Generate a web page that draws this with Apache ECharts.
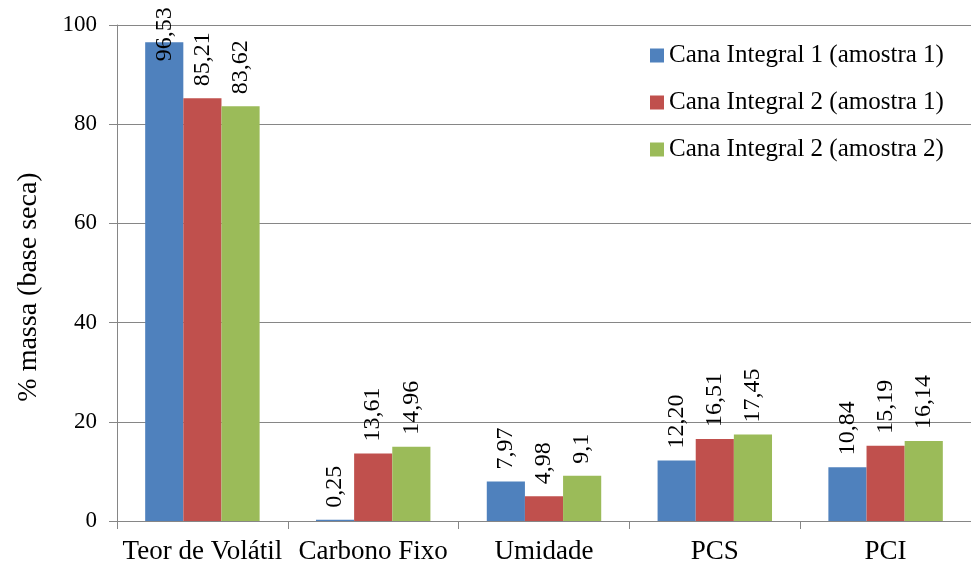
<!DOCTYPE html>
<html>
<head>
<meta charset="utf-8">
<script src="https://cdn.jsdelivr.net/npm/echarts@6/dist/echarts.min.js"></script>
<style>html,body{margin:0;padding:0;background:#fff;}#c{width:971px;height:565px;}</style>
</head>
<body>
<div id="c"></div>
<script>
const categories = ['Teor de Volátil', 'Carbono Fixo', 'Umidade', 'PCS', 'PCI'];
const seriesNames = ['Cana Integral 1 (amostra 1)', 'Cana Integral 2 (amostra 1)', 'Cana Integral 2 (amostra 2)'];
const values1 = [96.53, 0.25, 7.97, 12.20, 10.84];
const values2 = [85.21, 13.61, 4.98, 16.51, 15.19];
const values3 = [83.62, 14.96, 9.1, 17.45, 16.14];
const labels1 = ['96,53', '0,25', '7,97', '12,20', '10,84'];
const labels2 = ['85,21', '13,61', '4,98', '16,51', '15,19'];
const labels3 = ['83,62', '14,96', '9,1', '17,45', '16,14'];
const yTicks = { min: 0, max: 100, interval: 20 };

const colors = ['#4F81BD', '#C0504D', '#9BBB59'];
const FONT = '"Liberation Serif", "Times New Roman", serif';
const allValues = [values1, values2, values3];
const allLabels = [labels1, labels2, labels3];

const baseLabel = {
  show: true, position: 'top', rotate: 90, align: 'left', verticalAlign: 'middle',
  distance: 12, fontFamily: FONT, fontSize: 24, color: '#000'
};

const series = allValues.map((vals, si) => ({
  name: seriesNames[si],
  type: 'bar',
  barGap: '0%',
  barCategoryGap: '33%',
  itemStyle: { color: colors[si] },
  label: Object.assign({}, baseLabel, { formatter: p => allLabels[si][p.dataIndex] }),
  data: vals.map(v => v > 90
    ? { value: v, label: { position: ['50%', -35], align: 'right' } }
    : v)
}));

const chart = echarts.init(document.getElementById('c'), null, { renderer: 'canvas' });
chart.setOption({
  animation: false,
  color: colors,
  grid: { left: 117, right: -10, top: 25, bottom: 44, containLabel: false },
  legend: {
    orient: 'vertical', left: 645, top: 38,
    itemWidth: 14, itemHeight: 14, itemGap: 22,
    icon: 'rect',
    textStyle: { fontFamily: FONT, fontSize: 25, color: '#000' },
    data: seriesNames
  },
  xAxis: {
    type: 'category', data: categories,
    axisLine: { lineStyle: { color: '#868686' } },
    axisTick: { show: true, length: 8, lineStyle: { color: '#868686' } },
    axisLabel: { fontFamily: FONT, fontSize: 27, color: '#000', margin: 17, interval: 0 }
  },
  yAxis: {
    type: 'value', min: yTicks.min, max: yTicks.max, interval: yTicks.interval,
    name: '% massa (base seca)', nameLocation: 'middle', nameGap: 74,
    nameTextStyle: { fontFamily: FONT, fontSize: 28, color: '#000', padding: [0, 28, 0, 0] },
    axisLine: { show: true, lineStyle: { color: '#868686' } },
    axisTick: { show: true, length: 8, lineStyle: { color: '#868686' } },
    axisLabel: { fontFamily: FONT, fontSize: 23, color: '#000', margin: 20 },
    splitLine: { show: true, lineStyle: { color: '#868686' } }
  },
  series: series
});
</script>
</body>
</html>
